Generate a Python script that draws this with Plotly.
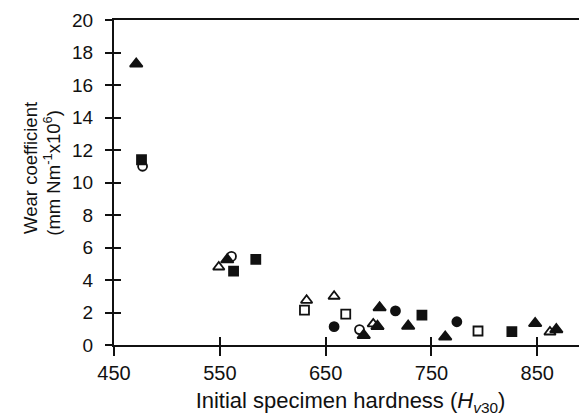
import plotly.graph_objects as go

# Initial hardness (Hv30) and wear coefficient (mm Nm^-1 x10^6), per marker type
tri_fill_x = [471, 557, 686, 699, 701, 728, 763, 848, 868]
tri_fill_y = [17.3, 5.25, 0.6, 1.15, 2.3, 1.17, 0.5, 1.33, 0.95]

sq_fill_x = [476, 563, 584, 741, 826]
sq_fill_y = [11.4, 4.55, 5.27, 1.84, 0.82]

circ_open_x = [477, 561, 682]
circ_open_y = [11.0, 5.45, 0.95]

tri_open_x = [549, 632, 658, 695, 862]
tri_open_y = [4.8, 2.75, 3.0, 1.3, 0.8]

sq_open_x = [630, 669, 794]
sq_open_y = [2.15, 1.9, 0.86]

circ_fill_x = [658, 716, 774]
circ_fill_y = [1.13, 2.1, 1.43]

x_ticks = [450, 550, 650, 750, 850]
y_ticks = [0, 2, 4, 6, 8, 10, 12, 14, 16, 18, 20]

INK = '#111111'
FONT = 'Liberation Sans, Arial, sans-serif'

fig = go.Figure()

series = [
    (tri_fill_x, tri_fill_y, 'triangle-up', 11),
    (sq_fill_x, sq_fill_y, 'square', 9),
    (circ_open_x, circ_open_y, 'circle-open', 9),
    (tri_open_x, tri_open_y, 'triangle-up-open', 10),
    (sq_open_x, sq_open_y, 'square-open', 9),
    (circ_fill_x, circ_fill_y, 'circle', 9),
]
for xs, ys, sym, size in series:
    fig.add_trace(go.Scatter(
        x=xs, y=ys, mode='markers', showlegend=False, cliponaxis=False,
        marker=dict(symbol=sym, size=size, color=INK, line=dict(color=INK, width=1.8)),
    ))

axis_common = dict(showgrid=False, zeroline=False, tickcolor=INK, tickwidth=1.5)

# page body adds an 8px offset, so the figure is 8px smaller than the window
fig.update_layout(
    width=579, height=408,
    margin=dict(l=106, r=0, t=12, b=71),
    plot_bgcolor='white', paper_bgcolor='white',
    font=dict(family=FONT, color=INK, size=19),
    xaxis=dict(
        range=[450, 897], tickvals=x_ticks, ticks='outside', ticklen=9,
        showline=True, linecolor=INK, linewidth=2, mirror=True,
        tickfont=dict(size=20),
        title=dict(text='Initial specimen hardness (<i>H</i><sub><i>v</i>30</sub>)',
                   font=dict(size=22), standoff=10),
        **axis_common,
    ),
    yaxis=dict(
        range=[0, 20], tickvals=y_ticks, ticks='outside', ticklen=7,
        showline=True, linecolor=INK, linewidth=2,
        ticklabelstandoff=8,
        **axis_common,
    ),
    # overlay axes give the inward half of the crossing tick marks
    xaxis2=dict(overlaying='x', matches='x', range=[450, 897], tickvals=x_ticks,
                ticks='inside', ticklen=8, showticklabels=False, showline=False,
                side='bottom', anchor='y', **axis_common),
    yaxis2=dict(overlaying='y', matches='y', range=[0, 20], tickvals=y_ticks,
                ticks='inside', ticklen=7, showticklabels=False, showline=False,
                side='left', anchor='x', **axis_common),
)

# invisible trace so the overlay axes are drawn
fig.add_trace(go.Scatter(x=[None], y=[None], xaxis='x2', yaxis='y2',
                         showlegend=False, hoverinfo='skip'))

fig.add_annotation(text='Wear coefficient', xref='paper', yref='paper',
                   x=0, y=0.545, xshift=-83, xanchor='center', yanchor='middle',
                   textangle=-90, showarrow=False, font=dict(size=18.5))
fig.add_annotation(text='(mm Nm<sup>-1</sup>x10<sup>6</sup>)', xref='paper', yref='paper',
                   x=0, y=0.53, xshift=-62, xanchor='center', yanchor='middle',
                   textangle=-90, showarrow=False, font=dict(size=18.5))

fig.write_html('out.html')
